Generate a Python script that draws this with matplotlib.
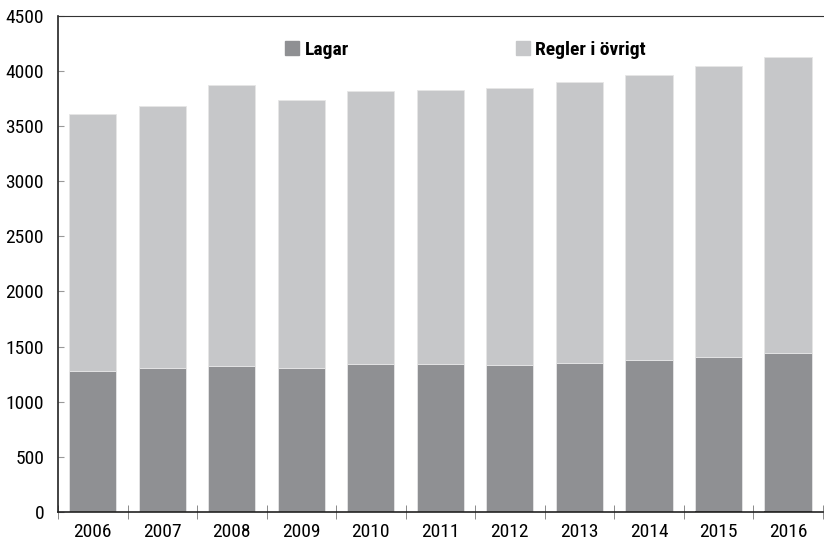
import numpy as np
import matplotlib.pyplot as plt
from matplotlib.patches import Patch

plt.rcParams['font.family'] = ['Roboto Condensed', 'DejaVu Sans']

years = ['2006', '2007', '2008', '2009', '2010', '2011', '2012', '2013', '2014', '2015', '2016']
lagar = [1280, 1310, 1320, 1310, 1345, 1340, 1335, 1355, 1380, 1405, 1445]
totals = [3610, 3680, 3870, 3740, 3820, 3825, 3850, 3905, 3965, 4045, 4130]
ovrigt = [t - l for t, l in zip(totals, lagar)]
# thin darker strip at the base of the last bars (not in legend)
bas = [0, 0, 0, 0, 0, 0, 0, 0, 0, 12, 12]

x = np.arange(len(years))
dark = '#8f9093'
light = '#c6c7c9'

fig = plt.figure(figsize=(8.24, 5.44), dpi=100)
ax = fig.add_axes([0.0704, 0.059, 0.928, 0.9116])

ax.bar(x, lagar, width=0.68, color=dark, edgecolor='#e6e6e6', linewidth=0.6)
ax.bar(x, ovrigt, bottom=lagar, width=0.68, color=light, edgecolor='#e6e6e6', linewidth=0.6)
ax.bar(x, bas, width=0.68, color='#555555', linewidth=0)

ax.set_xlim(-0.5, len(years) - 0.5)
ax.set_ylim(0, 4500)
ax.set_yticks(np.arange(0, 4501, 500))
ax.tick_params(axis='y', direction='in', length=4, color='#999999', labelsize=14, pad=10)
ax.set_xticks(x)
ax.set_xticklabels(years)
ax.set_xticks(np.arange(-0.5, len(years), 1), minor=True)
ax.tick_params(axis='x', which='major', length=0, labelsize=14, pad=8)
ax.tick_params(axis='x', which='minor', direction='inout', length=10, color='#777777')

ax.spines['right'].set_visible(False)
ax.spines['top'].set_color('#333333')
ax.spines['left'].set_color('#222222')
ax.spines['bottom'].set_color('#222222')
ax.spines['left'].set_linewidth(1.2)
ax.spines['bottom'].set_linewidth(1.2)

handles = [Patch(color=dark, label='Lagar'), Patch(color=light, label='Regler i övrigt')]
ax.legend(handles=handles, loc='upper center', bbox_to_anchor=(0.533, 0.985), ncol=2,
          frameon=False, handlelength=0.7, handleheight=0.7, handletextpad=0.3,
          columnspacing=8.6, prop={'weight': 'bold', 'size': 14})

fig.savefig('out.png', dpi=100)
